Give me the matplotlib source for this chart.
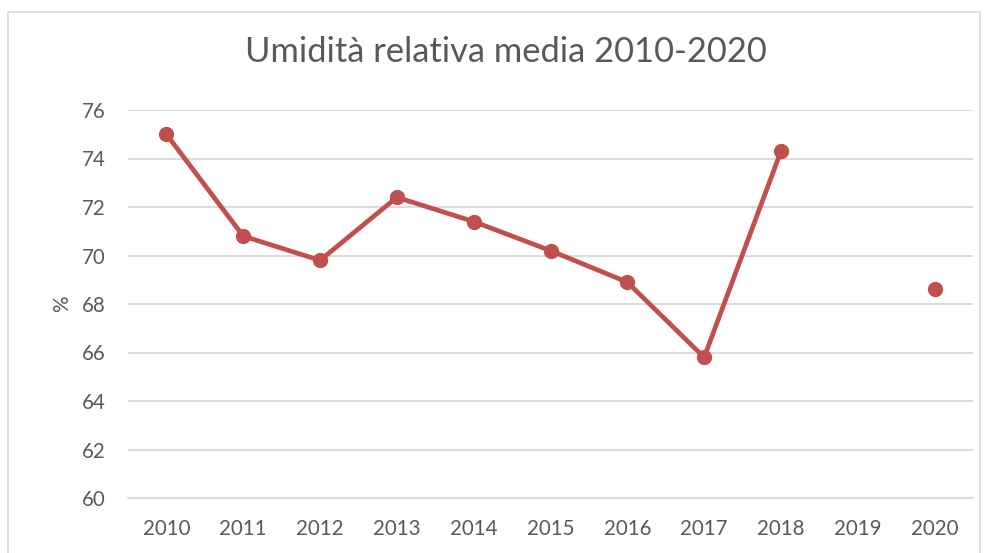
import numpy as np
import matplotlib
matplotlib.use("Agg")
import matplotlib.pyplot as plt
from matplotlib.patches import Rectangle

years = ["2010", "2011", "2012", "2013", "2014", "2015", "2016", "2017", "2018", "2019", "2020"]
humidity = [75.0, 70.8, 69.8, 72.4, 71.4, 70.2, 68.9, 65.8, 74.3, np.nan, 68.6]
y_ticks = [60, 62, 64, 66, 68, 70, 72, 74, 76]

plt.rcParams['font.family'] = ['Lato', 'DejaVu Sans']
grey = "#595959"

fig = plt.figure(figsize=(9.87, 5.53), dpi=100)
fig.patches.append(Rectangle((8 / 987, -0.1), 972 / 987, 1.1 - 12 / 553,
                             transform=fig.transFigure, fill=False,
                             edgecolor="#D9D9D9", linewidth=1.2))
ax = fig.add_axes([128 / 987, 1 - 498 / 553, 845 / 987, 388 / 553])

x = np.arange(len(years))
ax.plot(x, humidity, color="#C0504D", linewidth=3.4, marker="o",
        markersize=10, solid_capstyle="round")

ax.set_xlim(-0.5, len(years) - 0.5)
ax.set_ylim(60, 76)
ax.set_yticks(y_ticks)
ax.set_xticks(x)
ax.set_xticklabels(years)
ax.grid(axis="y", color="#D9D9D9", linewidth=1.3)
ax.set_axisbelow(True)
for s in ["top", "right", "left"]:
    ax.spines[s].set_visible(False)
ax.spines["bottom"].set_color("#D9D9D9")
ax.spines["bottom"].set_linewidth(1.3)
ax.tick_params(length=0, labelsize=14.8, colors=grey)
ax.tick_params(axis="x", pad=15)
ax.tick_params(axis="y", pad=16)
ax.set_ylabel("%", fontsize=15, color=grey, labelpad=7)

fig.text(506 / 987, 1 - 52 / 553, "Umidità relativa media 2010-2020",
         ha="center", va="center", fontsize=24.8, color=grey)

fig.savefig("out.png", dpi=100)
